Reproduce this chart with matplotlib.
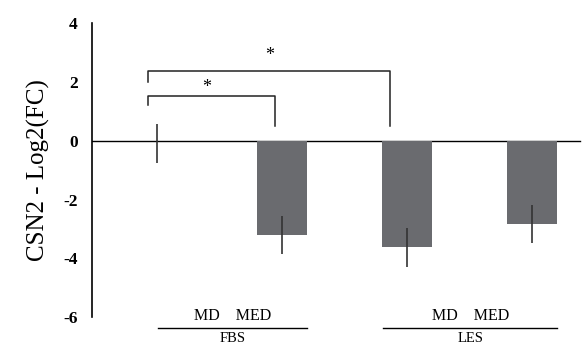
import matplotlib.pyplot as plt

plt.rcParams['font.family'] = ['Liberation Serif', 'DejaVu Serif']
plt.rcParams['axes.unicode_minus'] = False

# data
means = [-0.08, -3.2, -3.62, -2.82]
errors = [0.66, 0.65, 0.66, 0.65]
groups = ["FBS", "LES"]
sub_labels = "MD    MED"
yticks = [4, 2, 0, -2, -4, -6]

fig = plt.figure(figsize=(5.85, 3.45), dpi=100)
ax = fig.add_axes([0.157, 0.081, 0.843, 0.851])

x = list(range(len(means)))
colors = ["none", "#6a6b6f", "#6a6b6f", "#6a6b6f"]
ax.bar(x, means, width=0.4, color=colors, zorder=2)
ax.errorbar(x, means, yerr=errors, fmt="none", ecolor="#333333",
            elinewidth=1.2, capsize=0, zorder=3)

ax.set_xlim(-0.52, 3.42)
ax.set_ylim(-6, 4)
ax.plot([-0.52, 3.38], [0, 0], color="black", lw=1, zorder=1)

for s in ["top", "right", "bottom"]:
    ax.spines[s].set_visible(False)
ax.spines["left"].set_linewidth(1.2)
ax.set_xticks([])
ax.set_yticks(yticks)
ax.tick_params(axis="y", length=0, pad=10)
for lab in ax.get_yticklabels():
    lab.set_fontweight("bold")
    lab.set_fontsize(12.5)
ax.set_ylabel("CSN2 - Log2(FC)", fontsize=18, labelpad=10)

# significance brackets
bk = dict(color="#222222", lw=1.1, clip_on=False)
ax.plot([-0.07, -0.07, 0.94, 0.94], [1.22, 1.53, 1.53, 0.51], **bk)
ax.text(0.4, 1.82, "*", ha="center", va="center", fontsize=13)
ax.plot([-0.07, -0.07, 1.86, 1.86], [2.0, 2.38, 2.38, 0.51], **bk)
ax.text(0.9, 2.92, "*", ha="center", va="center", fontsize=13)

# group labels below the axis
spans = [(0.01, 1.2), (1.81, 3.2)]
for (a, b), g in zip(spans, groups):
    c = (a + b) / 2
    ax.text(c, -5.95, sub_labels, ha="center", va="center", fontsize=11.5,
            clip_on=False)
    ax.plot([a, b], [-6.36, -6.36], color="black", lw=1, clip_on=False)
    ax.text(c, -6.72, g, ha="center", va="center", fontsize=10.5,
            clip_on=False)

fig.savefig("out.png", dpi=100)
